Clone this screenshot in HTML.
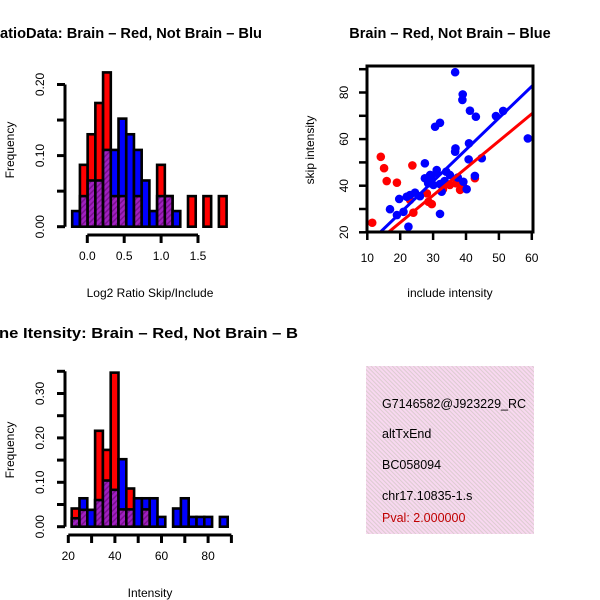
<!DOCTYPE html>
<html><head><meta charset="utf-8"><style>
body{margin:0;background:#fff}
svg{display:block;font-family:"Liberation Sans",sans-serif}
</style></head><body>
<svg id="c" width="600" height="600" viewBox="0 0 600 600">
<defs>
<pattern id="hatch" width="4" height="4" patternUnits="userSpaceOnUse" patternTransform="rotate(45)">
<rect width="4" height="4" fill="#a020c0"/><rect width="1.5" height="4" fill="#7a1090"/></pattern>
<pattern id="pink" width="3" height="3" patternUnits="userSpaceOnUse" patternTransform="rotate(-45)">
<rect width="3" height="3" fill="#f8d8f0"/><rect width="1" height="3" fill="#dcccd0"/></pattern>
<clipPath id="clipL"><rect x="0" y="0" width="300" height="600"/></clipPath>
<clipPath id="clipBox"><rect x="366" y="366" width="168" height="168"/></clipPath>
</defs>
<g id="tl"></g>
<g id="bl"></g>
<g id="tr"></g>
<g>
<rect x="366" y="366" width="168" height="168" fill="url(#pink)"/>
<g clip-path="url(#clipBox)" font-size="12.5">
<text x="382" y="408">G7146582@J923229_RC</text>
<text x="382" y="438">altTxEnd</text>
<text x="382" y="469">BC058094</text>
<text x="382" y="500">chr17.10835-1.s</text>
<text x="382" y="522" fill="#c00000">Pval: 2.000000</text>
</g></g>
</svg>
<script>
// Top-left ratio histogram data
const ratioRed  = [0,0.087,0.130,0.174,0.217,0.043,0.043,0,0.043,0,0,0.087,0.043,0,0,0.043,0,0.043,0,0.043];
const ratioBlue = [0.022,0.043,0.065,0.065,0.108,0.108,0.152,0.130,0.108,0.065,0.022,0.043,0.043,0.022,0,0,0,0,0,0];
const ratioTicksX = ["0.0","0.5","1.0","1.5"];
const ratioTicksXv = [0,0.5,1.0,1.5];
const ratioTicksY = ["0.00","0.10","0.20"];
const ratioTicksYv = [0,0.05,0.1,0.15,0.2];
// Bottom-left intensity histogram data
const intRed  = [0.041,0.038,0,0.216,0.173,0.347,0.039,0.086,0,0.039,0,0,0,0,0,0,0,0,0,0];
const intBlue = [0.019,0.064,0.038,0.060,0.104,0.083,0.152,0.039,0.064,0.064,0.064,0.022,0,0.041,0.064,0.022,0.022,0.022,0,0.022];
const intTicksX = ["20","40","60","80"];
const intTicksXv = [20,40,60,80];
const intTicksY = ["0.00","0.10","0.20","0.30"];
const intTicksYv = [0,0.05,0.1,0.15,0.2,0.25,0.3,0.35];
// Scatter data
const blueX = [36.7,39.0,38.9,41.2,43.0,49.1,51.3,58.8,32.1,30.6,36.8,36.7,40.9,40.8,44.8,27.5,31.1,29.1,27.5,35.1,42.7,39.2,40.2,32.6,32.1,30.1,24.5,23.0,22.0,19.7,21.0,19.0,16.9,22.5,32.1,29.4,33.5,28.5,34.0,31.0,26.0,37.5];
const blueY = [88.7,79.2,76.8,72.2,69.6,69.9,72.1,60.3,67.0,65.3,56.0,54.6,58.2,51.3,51.8,49.6,46.7,44.6,43.2,44.6,44.2,41.7,38.5,37.4,40.7,40.3,37.0,36.0,35.3,34.3,28.8,27.4,29.9,22.4,27.9,43.2,42.0,41.0,46.0,45.5,35.5,43.5];
const redX = [11.5,14.1,15.1,15.9,19.0,23.7,24.0,28.6,29.6,28.1,38.2,35.1,42.7,39.0,23.0,33.0,37.0];
const redY = [24.1,52.4,47.5,42.0,41.3,48.7,28.4,33.1,32.1,36.7,38.2,40.3,43.2,40.7,33.9,38.5,41.0];
const blueFit = [13.9,20,60.4,83.2];
const redFit = [16.4,20,60.4,71.3];
const scTicksX = ["10","20","30","40","50","60"];
const scTicksXv = [10,20,30,40,50,60];
const scTicksY = ["20","40","60","80"];
const scTicksYv = [20,30,40,50,60,70,80,90];

const NS='http://www.w3.org/2000/svg';
function mk(p,tag,a){const e=document.createElementNS(NS,tag);for(const k in a)e.setAttribute(k,a[k]);p.appendChild(e);return e;}

function hist(g,red,blue,x0,bw,yBase,yScale,xAxis,yAxis,xt,xtv,yt,ytv,title,xlab,titleX,titleLen,titleY){
  const sy=v=>yBase-v*yScale;
  for(let i=0;i<red.length;i++){
    const r=red[i],b=blue[i],x=x0+i*bw;
    const mx=Math.max(r,b),mn=Math.min(r,b);
    if(mx>0){
      const e=mk(g,'rect',{x:x,y:sy(mx),width:bw,height:mx*yScale,fill:r>=b?'#ff0000':'#0000ff',stroke:'#000','stroke-width':2.6});
      
      
    }
    if(mn>0){
      const e=mk(g,'rect',{x:x,y:sy(mn),width:bw,height:mn*yScale,fill:'url(#hatch)',stroke:'#000','stroke-width':2.6});
      
      
    }
  }
  const ya=yAxis.x;
  const yl=mk(g,'line',{x1:ya,x2:ya,y1:sy(ytv[0]),y2:sy(ytv[ytv.length-1]),stroke:'#000','stroke-width':3});
  
  
  ytv.forEach(v=>mk(g,'line',{x1:ya-8,x2:ya,y1:sy(v),y2:sy(v),stroke:'#000','stroke-width':3}));
  yt.forEach((t,i)=>{const v=ytv[i*2];const e=mk(g,'text',{x:0,y:0,transform:`translate(${ya-21},${sy(v)}) rotate(-90)`,'text-anchor':'middle','font-size':12});e.textContent=t;
    
    });
  const sx=xAxis.f,xy=xAxis.y;
  const xl=mk(g,'line',{x1:sx(xtv[0]),x2:sx(xAxis.end),y1:xy,y2:xy,stroke:'#000','stroke-width':3});
  
  
  (xAxis.ticks||xtv).forEach(v=>mk(g,'line',{x1:sx(v),x2:sx(v),y1:xy,y2:xy+8,stroke:'#000','stroke-width':3}));
  xt.forEach((t,i)=>{const e=mk(g,'text',{x:sx(xtv[i]),y:xy+25,'text-anchor':'middle','font-size':12});e.textContent=t;
    
    });
  let e=mk(g,'text',{x:0,y:0,transform:`translate(14,${yAxis.mid}) rotate(-90)`,'text-anchor':'middle','font-size':12});e.textContent='Frequency';
  
  
  e=mk(g,'text',{x:150,y:xlab.y,'text-anchor':'middle','font-size':12});e.textContent=xlab.t;
  
  
  e=mk(g,'text',{x:titleX,y:titleY,'font-size':14.5,'font-weight':'bold',textLength:titleLen,lengthAdjust:'spacingAndGlyphs'});e.textContent=title;
  
  
}
const tl=document.getElementById('tl');
hist(tl,ratioRed,ratioBlue,72.2,7.72,226.7,711,{f:v=>87.3+v*73.8,y:235,end:1.5},{x:65,mid:150},ratioTicksX,ratioTicksXv,ratioTicksY,ratioTicksYv,'atioData: Brain – Red, Not Brain – Blu',{y:297,t:'Log2 Ratio Skip/Include'},0,262,38);
const bl=document.getElementById('bl');
hist(bl,intRed,intBlue,71.7,7.8,526.7,444,{f:v=>68.3+(v-20)*2.33,y:535,end:90,ticks:[20,30,40,50,60,70,80,90]},{x:65,mid:450},intTicksX,intTicksXv,intTicksY,intTicksYv,'ne Itensity: Brain – Red, Not Brain – B',{y:597,t:'Intensity'},-1,299,338);

const tr=document.getElementById('tr');
const sx=v=>367.3+(v-10)*3.29, sy=v=>232.3-(v-20)*2.33;
const clip=mk(tr.ownerSVGElement.querySelector('defs'),'clipPath',{id:'clipSc'});
mk(clip,'rect',{x:367,y:66,width:166,height:166});
const pts=mk(tr,'g',{'clip-path':'url(#clipSc)'});
redX.forEach((x,i)=>{const c=mk(pts,'circle',{cx:sx(x),cy:sy(redY[i]),r:4.3,fill:'#ff0000'});
  
  });
blueX.forEach((x,i)=>{const c=mk(pts,'circle',{cx:sx(x),cy:sy(blueY[i]),r:4.3,fill:'#0000ff'});
  
  });
let l=mk(pts,'line',{x1:sx(blueFit[0]),y1:sy(blueFit[1]),x2:sx(blueFit[2]),y2:sy(blueFit[3]),stroke:'#0000ff','stroke-width':3});


l=mk(pts,'line',{x1:sx(redFit[0]),y1:sy(redFit[1]),x2:sx(redFit[2]),y2:sy(redFit[3]),stroke:'#ff0000','stroke-width':3});


const box=mk(tr,'rect',{x:367,y:66,width:166,height:166,fill:'none',stroke:'#000','stroke-width':3});


scTicksXv.forEach(v=>mk(tr,'line',{x1:sx(v),x2:sx(v),y1:232,y2:240,stroke:'#000','stroke-width':2.5}));
scTicksYv.forEach(v=>mk(tr,'line',{x1:359,x2:367,y1:sy(v),y2:sy(v),stroke:'#000','stroke-width':2.5}));
scTicksX.forEach((t,i)=>{const e=mk(tr,'text',{x:sx(scTicksXv[i]),y:262,'text-anchor':'middle','font-size':12});e.textContent=t;
  
  });
scTicksY.forEach((t,i)=>{const v=[20,40,60,80][i];const e=mk(tr,'text',{x:0,y:0,transform:`translate(348,${sy(v)}) rotate(-90)`,'text-anchor':'middle','font-size':12});e.textContent=t;
  
  });
let t=mk(tr,'text',{x:450,y:297,'text-anchor':'middle','font-size':12});t.textContent='include intensity';


t=mk(tr,'text',{x:0,y:0,transform:'translate(314,150) rotate(-90)','text-anchor':'middle','font-size':12});t.textContent='skip intensity';


t=mk(tr,'text',{x:450,y:38,'text-anchor':'middle','font-size':14.5,'font-weight':'bold'});t.textContent='Brain – Red, Not Brain – Blue';


</script>
</body></html>
